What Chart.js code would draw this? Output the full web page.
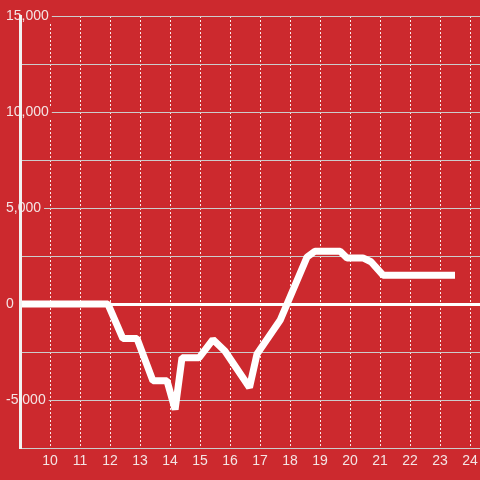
<!DOCTYPE html>
<html>
<head>
<meta charset="utf-8">
<script src="https://cdn.jsdelivr.net/npm/chart.js@4/dist/chart.umd.min.js"></script>
<style>
  html, body { margin: 0; padding: 0; background: #cc292e; }
  #c { display: block; }
</style>
</head>
<body>
<canvas id="c" width="480" height="480"></canvas>
<script>
// Data
const hours  = [9, 11.93, 12.43, 12.9, 13.43, 13.9, 14.17, 14.4, 14.97, 15.43, 15.83, 16.65, 16.9, 17.67, 18.57, 18.83, 19.67, 19.9, 20.43, 20.7, 21.1, 23.5];
const values = [0, 0, -1800, -1800, -4000, -4000, -5500, -2800, -2800, -1850, -2450, -4350, -2600, -850, 2450, 2750, 2750, 2400, 2400, 2200, 1500, 1500];

const xTicks = [10, 11, 12, 13, 14, 15, 16, 17, 18, 19, 20, 21, 22, 23, 24];
const yTicks = [-7500, -5000, -2500, 0, 2500, 5000, 7500, 10000, 12500, 15000];
const yLabeled = [-5000, 0, 5000, 10000, 15000];

const RED = '#cc292e';
const TEXT = '#f4e4e4';
const FONT = "'Liberation Sans', Arial, sans-serif";

new Chart(document.getElementById('c'), {
  type: 'line',
  data: {
    datasets: [{
      data: hours.map((h, i) => ({ x: h, y: values[i] })),
      borderColor: '#ffffff',
      borderWidth: 7,
      pointRadius: 0,
      tension: 0,
      borderJoinStyle: 'bevel',
      fill: false
    }]
  },
  options: {
    responsive: false,
    animation: false,
    layout: { padding: { left: 20, top: 16, right: 0, bottom: 5 } },
    plugins: { legend: { display: false }, tooltip: { enabled: false } },
    scales: {
      x: {
        type: 'linear',
        min: 9,
        max: 24.3333,
        afterBuildTicks: (s) => { s.ticks = xTicks.map(v => ({ value: v })); },
        grid: { color: 'rgba(255,255,255,0.9)', lineWidth: 1, drawTicks: false },
        border: { display: true, color: '#cccccc', width: 1, dash: [2, 2] },
        ticks: {
          autoSkip: false, maxRotation: 0, padding: 0,
          color: TEXT,
          font: { family: FONT, size: 14, lineHeight: '27px' },
          callback: (v) => String(v)
        }
      },
      y: {
        type: 'linear',
        min: -7500,
        max: 15000,
        afterBuildTicks: (s) => { s.ticks = yTicks.map(v => ({ value: v })); },
        afterFit: (s) => { s.width = 0; },
        grid: {
          drawTicks: false,
          color: (ctx) => (ctx.tick && ctx.tick.value === 0) ? '#ffffff' : '#cccccc',
          lineWidth: (ctx) => (ctx.tick && ctx.tick.value === 0) ? 3 : 1
        },
        border: { display: true, color: '#f2f2f2', width: 3, z: 1 },
        ticks: {
          mirror: true,
          crossAlign: 'near',
          padding: -14,
          color: TEXT,
          font: { family: FONT, size: 14, lineHeight: '12px' },
          showLabelBackdrop: true,
          backdropColor: RED,
          backdropPadding: { top: 0, bottom: 0, left: 2, right: 3 },
          callback: (v) => yLabeled.includes(v) ? v.toLocaleString('en-US') : ''
        }
      }
    }
  }
});
</script>
</body>
</html>
